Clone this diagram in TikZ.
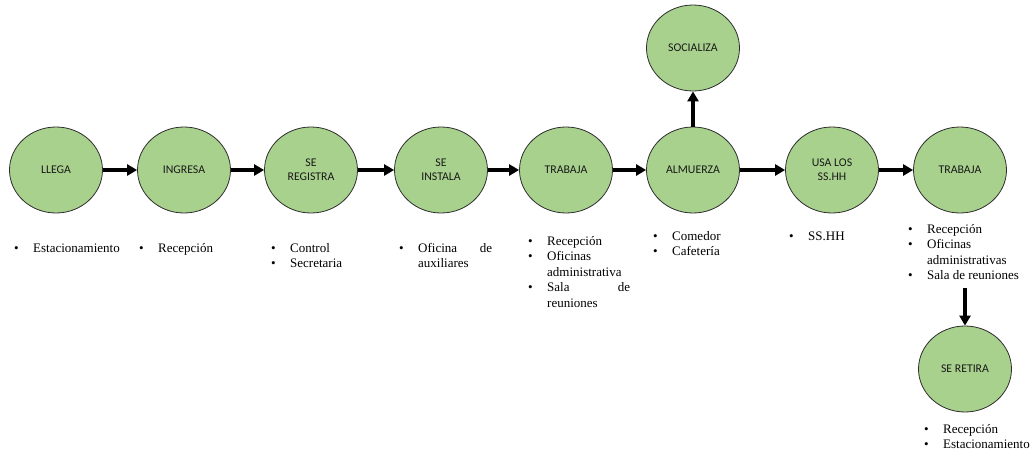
\documentclass[tikz,border=0pt]{standalone}
\usepackage{fontspec}
\setmainfont{Liberation Serif}
\newfontfamily\stagefont{Carlito}
\usetikzlibrary{shapes.geometric,arrows.meta,calc}

\definecolor{stagefill}{RGB}{169,209,142}
\definecolor{stageedge}{RGB}{45,45,45}
\definecolor{stagetext}{RGB}{25,25,25}

% justified line of a fixed width
\newcommand{\spread}[3]{\hbox to #1{#2\hfill #3}}

\tikzset{
  stage/.style={ellipse, draw=stageedge, line width=0.8pt, fill=stagefill,
    minimum width=93pt, minimum height=86pt, inner sep=0pt, align=center,
    text=stagetext, font=\stagefont\fontsize{11.8}{14.2}\selectfont},
  flow/.style={line width=3.4pt, -{Triangle[width=11pt,length=10pt]}},
  places/.style={inner sep=0pt, anchor=base west, text=black,
    font=\fontsize{13}{15.6}\selectfont},
}

\begin{document}
\begin{tikzpicture}[x=1pt,y=-1pt]
\useasboundingbox (0,0) rectangle (1034,455);

% activity stages
\node[stage] (llega)    at (56,170)  {LLEGA};
\node[stage] (ingresa)  at (184,170) {INGRESA};
\node[stage] (registra) at (311,170) {SE\\REGISTRA};
\node[stage] (instala)  at (441,170) {SE\\INSTALA};
\node[stage] (trabaja)  at (566,170) {TRABAJA};
\node[stage] (almuerza) at (693,170) {ALMUERZA};
\node[stage] (ssh)      at (832,170) {USA LOS\\SS.HH};
\node[stage] (trabajab) at (960,170) {TRABAJA};
\node[stage] (socializa) at (693,48) {SOCIALIZA};
\node[stage] (retira)   at (965,369) {SE RETIRA};

% places used at each stage
\node[places] (l1) at (14,252) {\begin{tabular}[t]{@{}p{19pt}@{}l@{}}
  \textbullet & Estacionamiento\end{tabular}};
\node[places] (l2) at (139,252) {\begin{tabular}[t]{@{}p{19pt}@{}l@{}}
  \textbullet & Recepción\end{tabular}};
\node[places] (l3) at (271,252) {\begin{tabular}[t]{@{}p{19pt}@{}l@{}}
  \textbullet & Control\\
  \textbullet & Secretaria\end{tabular}};
\node[places] (l4) at (399,252) {\begin{tabular}[t]{@{}p{19pt}@{}l@{}}
  \textbullet & \spread{74pt}{Oficina}{de}\\
              & auxiliares\end{tabular}};
\node[places] (l5) at (528,245) {\begin{tabular}[t]{@{}p{19pt}@{}l@{}}
  \textbullet & Recepción\\
  \textbullet & Oficinas\\
              & administrativa\\
  \textbullet & \spread{83pt}{Sala}{de}\\
              & reuniones\end{tabular}};
\node[places] (l6) at (653,240) {\begin{tabular}[t]{@{}p{19pt}@{}l@{}}
  \textbullet & Comedor\\
  \textbullet & Cafetería\end{tabular}};
\node[places] (l7) at (789,240) {\begin{tabular}[t]{@{}p{19pt}@{}l@{}}
  \textbullet & SS.HH\end{tabular}};
\node[places] (l8) at (908,233) {\begin{tabular}[t]{@{}p{19pt}@{}l@{}}
  \textbullet & Recepción\\
  \textbullet & Oficinas\\
              & administrativas\\
  \textbullet & Sala de reuniones\end{tabular}};
\node[places] (l9) at (924,433) {\begin{tabular}[t]{@{}p{19pt}@{}l@{}}
  \textbullet & Recepción\\
  \textbullet & Estacionamiento\end{tabular}};

% sequence
\draw[flow] (llega) -- (ingresa);
\draw[flow] (ingresa) -- (registra);
\draw[flow] (registra) -- (instala);
\draw[flow] (instala) -- (trabaja);
\draw[flow] (trabaja) -- (almuerza);
\draw[flow] (almuerza) -- (ssh);
\draw[flow] (ssh) -- (trabajab);
\draw[flow] (almuerza) -- (socializa);
\draw[flow] ($(l8.south -| retira.north)+(0,3.5)$) -- (retira.north);
\end{tikzpicture}
\end{document}
